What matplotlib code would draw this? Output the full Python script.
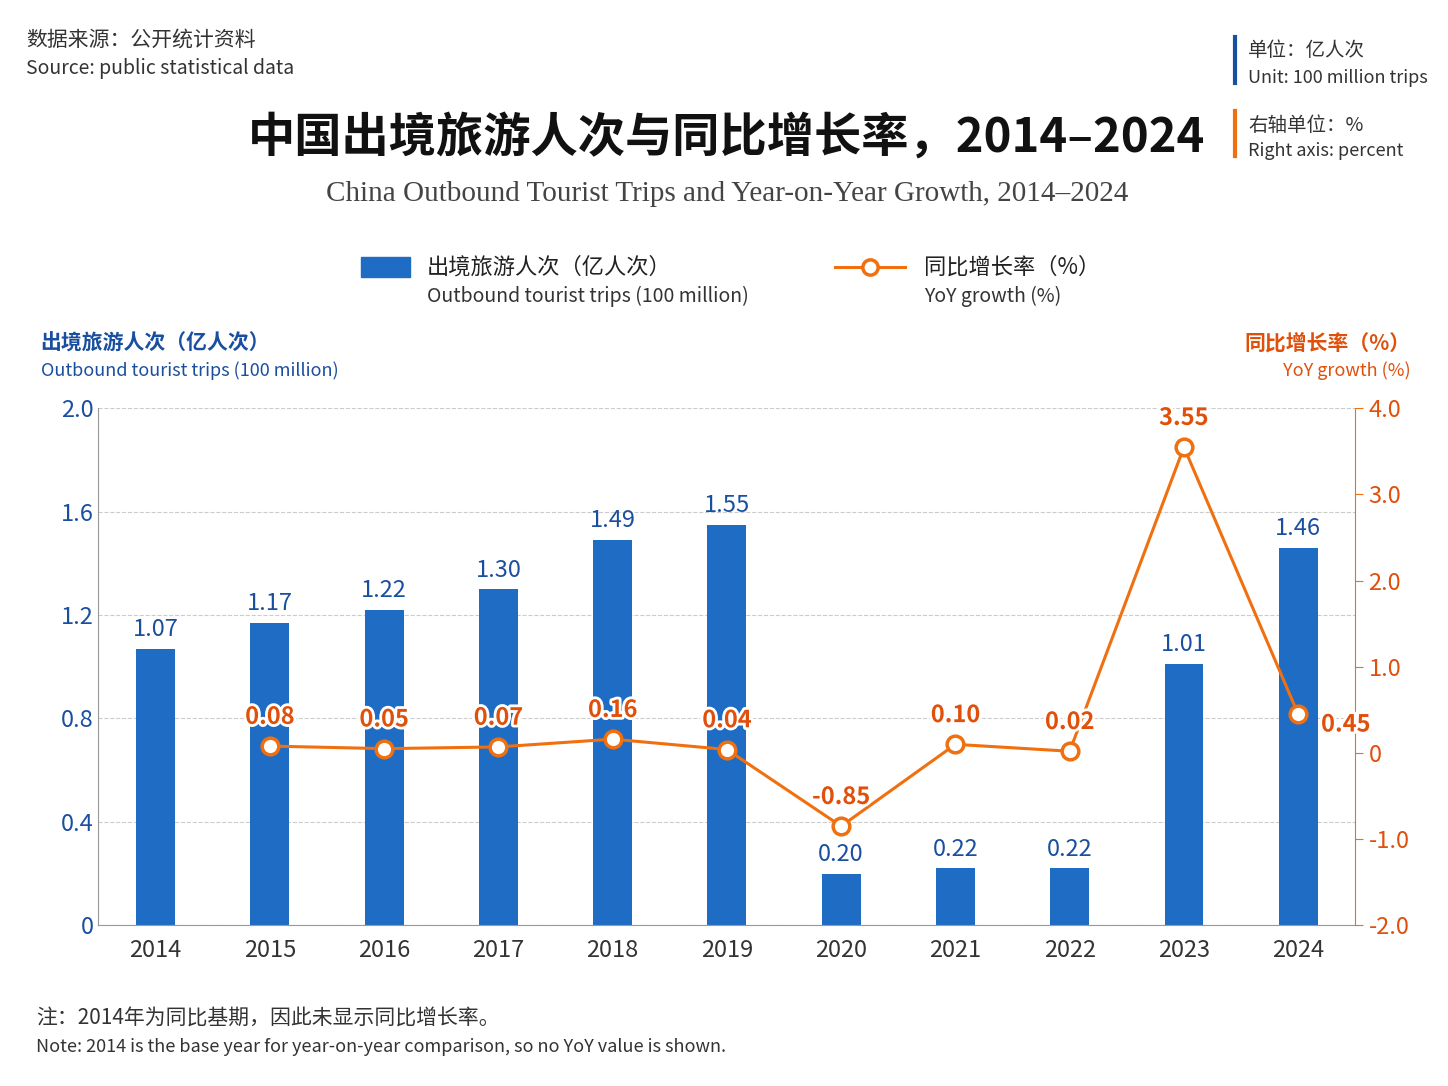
import numpy as np
import matplotlib.pyplot as plt
import matplotlib.patheffects as pe
from matplotlib.lines import Line2D
from matplotlib.patches import Rectangle

plt.rcParams['font.family'] = ['Noto Sans CJK SC', 'DejaVu Sans']

years = ["2014", "2015", "2016", "2017", "2018", "2019", "2020", "2021", "2022", "2023", "2024"]
trips = [1.07, 1.17, 1.22, 1.30, 1.49, 1.55, 0.20, 0.22, 0.22, 1.01, 1.46]
yoy = [None, 0.08, 0.05, 0.07, 0.16, 0.04, -0.85, 0.10, 0.02, 3.55, 0.45]

BLUE = "#1f6cc4"
ORANGE = "#f07010"
LABEL_OR = "#e0500a"
DARKBLUE = "#1a4fa0"
halo = [pe.withStroke(linewidth=4, foreground="white")]

fig = plt.figure(figsize=(14.48, 10.86), dpi=100)
ax = fig.add_axes([0.068, 0.148, 0.868, 0.476])
x = np.arange(len(years))
ax.bar(x, trips, width=0.34, color=BLUE, zorder=2)
for xi, v in zip(x, trips):
    ax.text(xi, v + 0.03, f"{v:.2f}", ha="center", va="bottom", fontsize=17, color=DARKBLUE)
ax.set_ylim(0, 2.0)
ax.set_xlim(-0.5, len(years) - 0.5)
ax.set_yticks([0, 0.4, 0.8, 1.2, 1.6, 2.0])
ax.set_yticklabels(["0", "0.4", "0.8", "1.2", "1.6", "2.0"], color=DARKBLUE, fontsize=17)
ax.set_xticks(x)
ax.set_xticklabels(years, fontsize=17, color="#333333")
ax.tick_params(axis="x", length=0, pad=10)
ax.tick_params(axis="y", length=0)
ax.grid(axis="y", linestyle="--", color="#cccccc", zorder=0)
for s in ["top", "right"]:
    ax.spines[s].set_visible(False)
ax.spines["left"].set_color("#999999")
ax.spines["bottom"].set_color("#999999")

ax2 = ax.twinx()
lx = [xi for xi, v in zip(x, yoy) if v is not None]
ly = [v for v in yoy if v is not None]
ax2.plot(lx, ly, color=ORANGE, lw=2.2, marker="o", ms=12, mfc="white", mec=ORANGE, mew=2.5, zorder=3)
for xi, v in zip(lx, ly):
    if v == 0.45:
        t = ax2.text(xi + 0.2, v - 0.12, f"{v:.2f}", ha="left", va="center", fontsize=17,
                     color=LABEL_OR, fontweight="bold")
    else:
        t = ax2.text(xi, v + 0.2, f"{v:.2f}", ha="center", va="bottom", fontsize=17,
                     color=LABEL_OR, fontweight="bold")
    t.set_path_effects(halo)
ax2.set_ylim(-2.0, 4.0)
ax2.set_yticks([-2, -1, 0, 1, 2, 3, 4])
ax2.set_yticklabels(["-2.0", "-1.0", "0", "1.0", "2.0", "3.0", "4.0"], color=LABEL_OR, fontsize=17)
ax2.tick_params(axis="y", color=ORANGE, length=6)
for s in ["top", "left", "bottom"]:
    ax2.spines[s].set_visible(False)
ax2.spines["right"].set_color(ORANGE)

# header texts
fig.text(0.018, 0.958, "数据来源：公开统计资料", fontsize=15, color="#333333")
fig.text(0.018, 0.932, "Source: public statistical data", fontsize=14, color="#333333")
fig.add_artist(Line2D([0.853, 0.853], [0.924, 0.966], color=DARKBLUE, lw=3))
fig.text(0.862, 0.948, "单位：亿人次", fontsize=14, color="#333333")
fig.text(0.862, 0.924, "Unit: 100 million trips", fontsize=13, color="#333333")
fig.add_artist(Line2D([0.853, 0.853], [0.856, 0.898], color=ORANGE, lw=3))
fig.text(0.862, 0.879, "右轴单位：%", fontsize=14, color="#333333")
fig.text(0.862, 0.856, "Right axis: percent", fontsize=13, color="#333333")
fig.text(0.502, 0.873, "中国出境旅游人次与同比增长率，2014–2024", fontsize=34, fontweight="bold",
         ha="center", va="center", color="#111111")
fig.text(0.502, 0.821, "China Outbound Tourist Trips and Year-on-Year Growth, 2014–2024", fontsize=21,
         ha="center", va="center", color="#444444", family="Liberation Serif")

# legend
fig.add_artist(Rectangle((0.249, 0.745), 0.034, 0.018, color=BLUE))
fig.text(0.295, 0.754, "出境旅游人次（亿人次）", fontsize=16, va="center", color="#222222")
fig.text(0.295, 0.727, "Outbound tourist trips (100 million)", fontsize=14, va="center", color="#333333")
fig.add_artist(Line2D([0.577, 0.625], [0.754, 0.754], color=ORANGE, lw=2.2))
fig.add_artist(Line2D([0.601], [0.754], color=ORANGE, marker="o", ms=11, mfc="white", mew=2.5))
fig.text(0.638, 0.754, "同比增长率（%）", fontsize=16, va="center", color="#222222")
fig.text(0.638, 0.727, "YoY growth (%)", fontsize=14, va="center", color="#333333")

# axis titles
fig.text(0.028, 0.684, "出境旅游人次（亿人次）", fontsize=15, fontweight="bold", color=DARKBLUE, va="center")
fig.text(0.028, 0.659, "Outbound tourist trips (100 million)", fontsize=13, color=DARKBLUE, va="center")
fig.text(0.974, 0.684, "同比增长率（%）", fontsize=15, fontweight="bold", color=LABEL_OR, va="center", ha="right")
fig.text(0.974, 0.659, "YoY growth (%)", fontsize=13, color=LABEL_OR, va="center", ha="right")

# note
fig.text(0.025, 0.063, "注：2014年为同比基期，因此未显示同比增长率。", fontsize=15, color="#333333", va="center")
fig.text(0.025, 0.036, "Note: 2014 is the base year for year-on-year comparison, so no YoY value is shown.",
         fontsize=13, color="#333333", va="center")

fig.savefig("out.png", dpi=100, facecolor="white")
